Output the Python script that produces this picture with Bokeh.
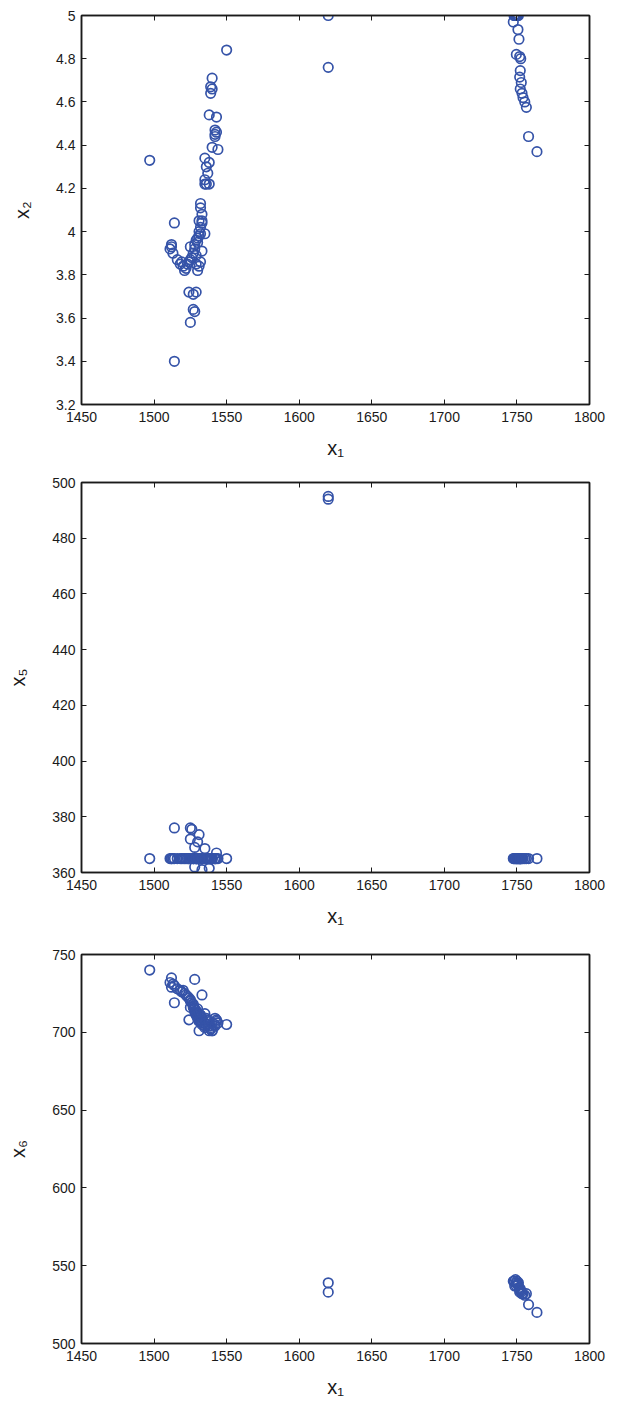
from bokeh.plotting import figure
from bokeh.layouts import column
from bokeh.models import LinearAxis, FixedTicker, Range1d, ColumnDataSource, CustomLabelingPolicy
from bokeh.embed import file_html
from bokeh.resources import INLINE

# ---- data ----
x1 = [1497, 1512, 1511, 1513, 1514, 1512, 1514, 1516, 1518, 1519,
      1520, 1521, 1522, 1523, 1524, 1525, 1525, 1525, 1526, 1527,
      1527, 1527, 1528, 1528, 1528, 1529, 1529, 1529, 1529, 1530,
      1530, 1530, 1531, 1531, 1531, 1532, 1532, 1532, 1533, 1533,
      1533, 1532, 1532, 1533, 1535, 1531, 1536, 1535, 1535, 1536,
      1537, 1535, 1538, 1538, 1540, 1538, 1539, 1539, 1540, 1540,
      1542, 1542, 1542, 1543, 1544, 1543, 1550, 1524,
      1620, 1620,
      1748, 1749, 1749.5, 1750, 1750.5, 1751, 1748.5, 1747.5, 1750.7, 1751.4,
      1749.6, 1751.9, 1752.6, 1752.3, 1751.9, 1753, 1752.3, 1753.5, 1754.2, 1755.4,
      1756.5, 1758, 1763.8]
x2 = [4.33, 3.94, 3.92, 3.90, 4.04, 3.93, 3.40, 3.87, 3.85, 3.86,
      3.84, 3.82, 3.83, 3.85, 3.72, 3.87, 3.93, 3.58, 3.88, 3.71,
      3.64, 3.90, 3.63, 3.92, 3.94, 3.72, 3.96, 3.85, 3.89, 3.97,
      3.82, 3.95, 3.98, 4.00, 3.84, 4.02, 3.99, 3.86, 4.05, 3.91,
      4.04, 4.13, 4.11, 4.08, 3.99, 4.05, 4.30, 4.24, 4.22, 4.22,
      4.27, 4.34, 4.32, 4.22, 4.39, 4.54, 4.64, 4.67, 4.71, 4.66,
      4.47, 4.45, 4.44, 4.53, 4.38, 4.46, 4.84, 3.86,
      5.00, 4.76,
      5.00, 5.00, 5.00, 5.00, 5.00, 5.00, 5.00, 4.97, 4.935, 4.89,
      4.82, 4.81, 4.80, 4.745, 4.715, 4.69, 4.66, 4.64, 4.62, 4.60,
      4.575, 4.44, 4.37]
x5 = [365, 365, 365, 365, 376, 365, 365, 365, 365, 365,
      365, 365, 365, 365, 365, 372, 376, 365, 375.5, 365,
      365, 365, 369, 362, 365, 365, 365, 365, 365, 371,
      365, 365, 373.6, 365, 365, 365, 365, 365, 361, 365,
      365, 365, 365, 365, 368.6, 365, 365, 365, 365, 365,
      365, 365, 361.5, 365, 365, 365, 365, 365, 365, 365,
      365, 365, 365, 367, 365, 365, 365, 365,
      495, 494,
      365, 365, 365, 365, 365, 365, 365, 365, 365, 365,
      365, 365, 365, 365, 365, 365, 365, 365, 365, 365,
      365, 365, 365]
x6 = [740, 735, 732, 731, 730, 729, 719, 728, 727, 726,
      727, 725, 724, 723, 722, 721, 720, 716, 719, 718,
      717, 716, 713, 715, 734, 714, 712, 713, 711, 710,
      715, 709, 712, 708, 701, 711, 710, 707, 724, 709,
      706, 711, 708, 705, 712, 707, 709, 706, 704, 708,
      705, 703, 707, 701, 706, 704, 702, 703, 701, 701,
      705, 704, 709, 708, 706, 707, 705, 708,
      539, 533,
      540, 541, 539, 540, 538, 539, 537, 540, 538, 536,
      537, 535, 534, 535, 533, 533, 534, 532, 532, 531,
      532, 525, 520]

x_ticks = [1450, 1500, 1550, 1600, 1650, 1700, 1750, 1800]
x2_ticks = [3.2, 3.4, 3.6, 3.8, 4.0, 4.2, 4.4, 4.6, 4.8, 5.0]
x5_ticks = [360, 380, 400, 420, 440, 460, 480, 500]
x6_ticks = [500, 550, 600, 650, 700, 750]

FONT = "Liberation Sans"
BLUE = "#3553a8"
DARK = "#1a1a1a"
src = ColumnDataSource(dict(x1=x1, x2=x2, x5=x5, x6=x6))


def make(ycol, ylabel, yticks, yr, fh, top, bottom, overrides=None):
    p = figure(frame_width=508, frame_height=fh, x_range=Range1d(1450, 1800),
               y_range=Range1d(*yr), output_backend="svg", toolbar_location=None,
               x_axis_label="x\u2081", y_axis_label=ylabel,
               min_border_left=81, min_border_right=24,
               min_border_top=top, min_border_bottom=bottom)
    p.background_fill_color = "white"
    p.border_fill_color = "white"
    p.outline_line_color = DARK
    p.outline_line_width = 1.5
    p.xgrid.visible = False
    p.ygrid.visible = False
    p.xaxis.ticker = FixedTicker(ticks=x_ticks)
    p.yaxis.ticker = FixedTicker(ticks=yticks)
    if overrides:
        p.yaxis.major_label_overrides = overrides
    for ax in (p.xaxis[0], p.yaxis[0]):
        ax.major_tick_in = 5
        ax.major_tick_out = 0
        ax.minor_tick_line_color = None
        ax.axis_line_color = DARK
        ax.axis_line_width = 1.5
        ax.major_tick_line_color = DARK
        ax.major_tick_line_width = 1
        ax.major_label_text_font = FONT
        ax.major_label_text_font_size = "14px"
        ax.major_label_text_color = DARK
        ax.axis_label_text_font = FONT
        ax.axis_label_text_font_size = "20px"
        ax.axis_label_text_font_style = "normal"
        ax.axis_label_text_color = DARK
    p.xaxis.major_label_standoff = 7
    p.xaxis.axis_label_standoff = 12
    p.yaxis.major_label_standoff = 6
    p.yaxis.axis_label_standoff = 20
    # box ticks on top / right (no labels)
    for loc, tk in (("above", x_ticks), ("right", yticks)):
        ax = LinearAxis(ticker=FixedTicker(ticks=tk),
                        major_label_policy=CustomLabelingPolicy(code="return new Set()"))
        ax.major_tick_in = 5
        ax.major_tick_out = 0
        ax.minor_tick_line_color = None
        ax.major_label_standoff = 0
        ax.axis_line_color = DARK
        ax.axis_line_width = 1.5
        ax.major_tick_line_color = DARK
        p.add_layout(ax, loc)
    p.scatter("x1", ycol, source=src, marker="circle", size=9.5,
              fill_color=None, line_color=BLUE, line_width=1.7)
    return p


p1 = make("x2", "x\u2082", x2_ticks, (3.2, 5.0), 389, 15, 67, {4.0: "4", 5.0: "5"})
p2 = make("x5", "x\u2085", x5_ticks, (360, 500), 390, 6, 71)
p3 = make("x6", "x\u2086", x6_ticks, (500, 750), 389, 6, 50)

layout = column(p1, p2, p3, spacing=0)
open("out.html", "w").write(file_html(layout, INLINE))
